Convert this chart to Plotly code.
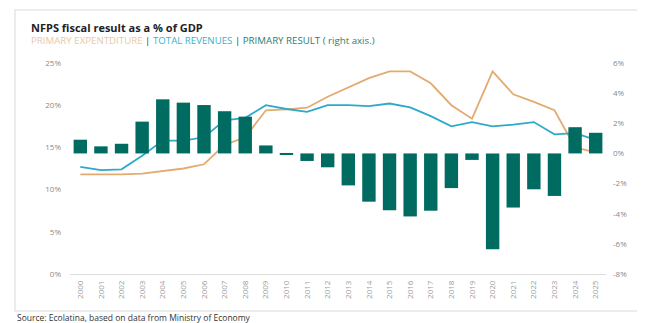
import plotly.graph_objects as go

years = [str(y) for y in range(2000, 2026)]
primary_expenditure = [11.8, 11.8, 11.8, 11.9, 12.2, 12.5, 13.0, 15.3, 16.2, 19.4, 19.5, 19.7,
                       21.0, 22.1, 23.2, 24.0, 24.0, 22.6, 20.0, 18.4, 24.0, 21.3, 20.4, 19.4, 15.0, 14.4]
total_revenues = [12.7, 12.3, 12.4, 14.0, 15.8, 15.8, 16.2, 18.2, 18.5, 20.0, 19.55, 19.2,
                  20.0, 20.0, 19.9, 20.2, 19.75, 18.7, 17.5, 18.0, 17.5, 17.7, 18.0, 16.55, 16.7, 15.9]
primary_result = [0.91, 0.47, 0.64, 2.11, 3.59, 3.37, 3.21, 2.8, 2.44, 0.53, -0.05, -0.5,
                  -0.92, -2.12, -3.2, -3.77, -4.18, -3.8, -2.3, -0.43, -6.35, -3.59, -2.38, -2.82, 1.74, 1.37]
left_ticks = [0, 5, 10, 15, 20, 25]
right_ticks = [-8, -6, -4, -2, 0, 2, 4, 6]

# the page body has an 8px default margin; work in page pixels and shift
OFF = 8
W, H = 645 - OFF, 323 - OFF
L, R, T, B = 70 - OFF, 39, 63 - OFF, 49
pw, ph = W - L - R, H - T - B

def px(x):
    return (x - OFF - L) / pw

def py(y):
    return (H - B - (y - OFF)) / ph

fig = go.Figure()
fig.add_trace(go.Bar(x=years, y=primary_result, yaxis="y2", marker_color="#006b60",
                     marker_line_width=0, name="Primary result"))
fig.add_trace(go.Scatter(x=years, y=primary_expenditure, mode="lines",
                         line=dict(color="#e3ab70", width=1.8), name="Primary expenditure"))
fig.add_trace(go.Scatter(x=years, y=total_revenues, mode="lines",
                         line=dict(color="#2ea9c9", width=1.8), name="Total revenues"))

tickfont = dict(family="Open Sans", size=8, color="#8a8a8a")
fig.update_layout(
    width=W, height=H,
    margin=dict(l=L, r=R, t=T, b=B),
    paper_bgcolor="white", plot_bgcolor="white",
    showlegend=False, bargap=0.35,
    font=dict(family="Open Sans"),
    xaxis=dict(type="category", tickangle=-90, tickfont=dict(family="Open Sans", size=8, color="#9a9a9a"),
               showgrid=False, showline=False, ticks="", ticklabelstandoff=4),
    yaxis=dict(range=[0, 25], tickvals=left_ticks, ticktext=[f"{v}%" for v in left_ticks],
               tickfont=tickfont, showgrid=False, zeroline=True, zerolinecolor="#dddddd",
               zerolinewidth=1, ticks="", ticklabelstandoff=8),
    yaxis2=dict(range=[-8, 6], overlaying="y", side="right", tickvals=right_ticks,
                ticktext=[f"{v}%" for v in right_ticks], tickfont=tickfont, showgrid=False,
                zeroline=False, ticks="", ticklabelstandoff=6),
    shapes=[dict(type="rect", xref="paper", yref="paper", x0=px(15), x1=px(640),
                 y0=py(311), y1=py(10), line=dict(color="#e6e6e6", width=1.5),
                 fillcolor="rgba(0,0,0,0)", layer="below")],
    annotations=[
        dict(text="<b>NFPS fiscal result as a % of GDP</b>", xref="paper", yref="paper",
             x=px(29), y=py(27), xanchor="left", yanchor="middle", showarrow=False,
             font=dict(family="Open Sans", size=11, color="#222222")),
        dict(text='<span style="color:#e8c9a0">PRIMARY EXPENTDITURE</span>'
                  '<span style="color:#333333"> | </span>'
                  '<span style="color:#3cb0c8">TOTAL REVENUES</span>'
                  '<span style="color:#333333"> | </span>'
                  '<span style="color:#2a7d74">PRIMARY RESULT ( right axis.)</span>',
             xref="paper", yref="paper", x=px(29), y=py(40), xanchor="left", yanchor="middle",
             showarrow=False, font=dict(family="Open Sans", size=9.7)),
        dict(text="Source: Ecolatina, based on data from Ministry of Economy", xref="paper",
             yref="paper", x=px(15), y=py(317), xanchor="left", yanchor="middle",
             showarrow=False, font=dict(family="Open Sans", size=8.5, color="#333333")),
    ],
)

fig.write_html("out.html")
